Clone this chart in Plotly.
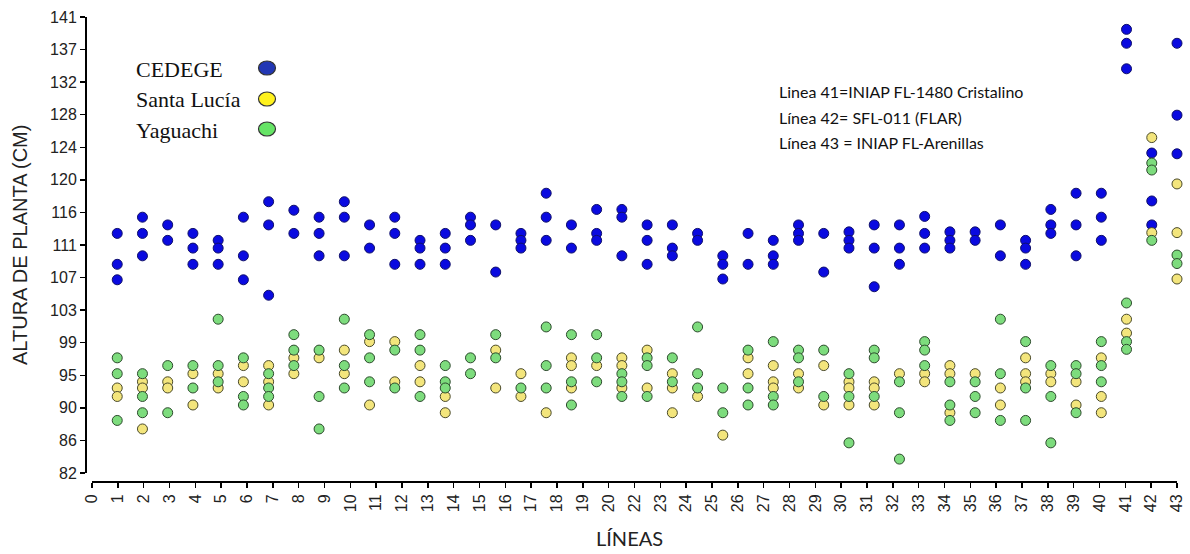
import plotly.graph_objects as go

# ---------------- data ----------------
lines = list(range(1, 44))

cedege = [
    [113.0, 109.0, 107.0], [115.1, 113.0, 110.1], [114.1, 112.1], [113.0, 111.1, 109.0],
    [112.1, 111.1, 109.0], [115.1, 110.1, 107.0], [117.1, 114.1, 105.0], [116.0, 113.0],
    [115.1, 113.0, 110.1], [117.1, 115.1, 110.1], [114.1, 111.1], [115.1, 113.0, 109.0],
    [112.1, 111.1, 109.0], [113.0, 111.1, 109.0], [115.1, 114.1, 112.1], [114.1, 108.0],
    [113.0, 112.1, 111.1], [118.2, 115.1, 112.1], [114.1, 111.1], [116.1, 113.0, 112.1],
    [116.1, 115.1, 110.1], [114.1, 112.1, 109.0], [114.1, 111.1, 110.1], [113.0, 112.1],
    [110.1, 109.0, 107.1], [113.0, 109.0], [112.1, 110.1, 109.0], [114.1, 113.0, 112.1],
    [113.0, 108.0], [113.2, 112.1, 111.1], [114.1, 111.1, 106.1], [114.1, 111.1, 109.0],
    [115.2, 113.0, 111.1], [113.2, 112.1, 111.1], [113.2, 112.1], [114.1, 110.1],
    [112.1, 111.1, 109.0], [116.1, 114.1, 113.0], [118.2, 114.1, 110.1], [118.2, 115.1, 112.1],
    [139.4, 137.6, 134.3], [123.4, 117.2, 114.1], [137.6, 128.3, 123.3],
]

santa_lucia = [
    [93.0, 91.9], [93.8, 93.0, 87.7], [93.8, 93.0], [94.85, 90.8],
    [94.85, 93.0], [95.9, 93.8], [95.9, 93.8, 90.8], [96.9, 94.85],
    [96.9], [97.9, 94.85], [99.0, 90.8], [99.0, 93.8],
    [95.9, 93.8], [91.9, 89.8], [], [97.9, 93.0],
    [94.85, 91.9], [89.8], [96.9, 95.9, 93.0], [95.9],
    [96.9, 95.9, 93.0], [97.9, 93.0], [94.85, 93.0, 89.8], [91.9],
    [86.9], [96.9, 94.85], [95.9, 93.8, 93.0], [94.85, 93.0],
    [95.9, 90.8], [93.8, 93.0, 90.8], [93.8, 93.0, 90.8], [94.85],
    [94.85, 93.8], [95.9, 94.85, 89.8], [94.85], [93.0, 90.8],
    [96.9, 94.85, 93.8], [94.85, 93.8], [93.8, 90.8], [96.9, 91.9, 89.8],
    [101.9, 100.1], [125.4, 113.1], [119.4, 113.1, 107.1],
]

yaguachi = [
    [96.9, 94.85, 88.8], [94.85, 91.9, 89.8], [95.9, 89.8], [95.9, 93.0],
    [101.9, 95.9, 93.8], [96.9, 91.9, 90.8], [94.85, 93.0, 91.9], [99.9, 97.9, 95.9],
    [97.9, 91.9, 87.7], [101.9, 95.9, 93.0], [99.9, 96.9, 93.8], [97.9, 93.0],
    [99.9, 97.9, 91.9], [95.9, 93.8, 93.0], [96.9, 94.85], [99.9, 96.9],
    [93.0], [100.9, 95.9, 93.0], [99.9, 93.8, 90.8], [99.9, 96.9, 93.8],
    [94.85, 93.8, 91.9], [96.9, 95.9, 91.9], [96.9, 93.8], [100.9, 94.85, 93.0],
    [93.0, 89.8], [97.9, 93.0, 90.8], [99.0, 91.9, 90.8], [97.9, 96.9, 93.8],
    [97.9, 91.9], [94.85, 91.9, 85.9], [97.9, 96.9, 91.9], [93.8, 89.8, 83.8],
    [99.0, 97.9, 95.9], [93.8, 90.8, 88.8], [93.8, 91.9, 89.8], [101.9, 94.85, 88.8],
    [99.0, 93.0, 88.8], [95.9, 91.9, 85.9], [95.9, 94.85, 89.8], [99.0, 95.9, 93.8],
    [104.0, 99.0, 98.0], [122.1, 121.2, 112.1], [110.2, 109.1],
]

series_names = ["CEDEGE", "Santa Lucía", "Yaguachi"]
y_tick_labels = ["82", "86", "90", "95", "99", "103", "107", "111",
                 "116", "120", "124", "128", "132", "137", "141"]
x_tick_labels = [str(i) for i in range(0, 21)] + [str(i) for i in range(22, 44)]
notes = ["Linea 41=INIAP FL-1480 Cristalino",
         "Línea 42= SFL-011 (FLAR)",
         "Línea 43 = INIAP FL-Arenillas"]

# ---------------- layout constants ----------------
W, H = 1190, 554
ML, MR, MT, MB = 86, 13, 17, 72
PW, PH = W - ML - MR, H - MT - MB
Y_MIN, Y_MAX = 82, 141
X_MAX = 43
y_lo = Y_MIN - 9 / 456 * (Y_MAX - Y_MIN)
x_lo = -6 / 25.24


def px(x):
    return (x - ML) / PW


def py(y):
    return (H - MB - y) / PH


def flatten(groups):
    xs, ys = [], []
    for ln, vals in zip(lines, groups):
        for v in vals:
            xs.append(ln)
            ys.append(v)
    return xs, ys


fills = ["#0a0ae0", "#f3e57c", "#7ddc7d"]
edges = ["#10106a", "#4a4a2a", "#2d4a2d"]

fig = go.Figure()
for name, grp, fc, ec in zip(series_names, [cedege, santa_lucia, yaguachi], fills, edges):
    xs, ys = flatten(grp)
    fig.add_trace(go.Scatter(
        x=xs, y=ys, mode="markers", name=name, cliponaxis=False,
        marker=dict(size=10, color=fc, line=dict(color=ec, width=1)),
        showlegend=False,
    ))

tick_font = dict(family="Liberation Sans, Arial", size=16, color="#222")

fig.update_layout(
    width=W, height=H,
    margin=dict(l=ML, r=MR, t=MT, b=MB, autoexpand=False),
    paper_bgcolor="white", plot_bgcolor="white",
    hovermode=False,
    xaxis=dict(
        range=[x_lo, X_MAX], showgrid=False, zeroline=False, showline=False,
        automargin=False,
        tickmode="array",
        tickvals=[i * X_MAX / (len(x_tick_labels) - 1) for i in range(len(x_tick_labels))],
        ticktext=x_tick_labels, tickangle=-90,
        ticks="outside", ticklen=5, tickwidth=1.5, tickcolor="black",
        tickfont=tick_font,
    ),
    yaxis=dict(
        range=[y_lo, Y_MAX], showgrid=False, zeroline=False, showline=False,
        automargin=False,
        tickmode="array",
        tickvals=[Y_MIN + i * (Y_MAX - Y_MIN) / (len(y_tick_labels) - 1) for i in range(len(y_tick_labels))],
        ticktext=y_tick_labels,
        ticks="outside", ticklen=5, tickwidth=1.5, tickcolor="black",
        tickfont=tick_font,
    ),
)

# detached axis lines
fig.add_shape(type="line", xref="x", yref="paper", x0=0, x1=X_MAX, y0=0, y1=0,
              line=dict(color="black", width=2))
fig.add_shape(type="line", xref="paper", yref="y", x0=0, x1=0, y0=Y_MIN, y1=Y_MAX,
              line=dict(color="black", width=2))

# axis titles
fig.add_annotation(text="ALTURA DE PLANTA (CM)", xref="paper", yref="paper",
                   x=px(20), y=py(245), xanchor="center", yanchor="middle",
                   textangle=-90, showarrow=False,
                   font=dict(family="Liberation Sans, Arial", size=20, color="#222"))
fig.add_annotation(text="LÍNEAS", xref="paper", yref="paper",
                   x=px(629), y=py(538), xanchor="center", yanchor="middle",
                   showarrow=False,
                   font=dict(family="Lato, Carlito", size=20, color="#222"))

# legend (text then marker)
leg_y = [69, 100, 130]
for name, ly, fc in zip(series_names, leg_y, ["#2237b4", "#fff21e", "#66e466"]):
    fig.add_annotation(text=name, xref="paper", yref="paper", x=px(134), y=py(ly),
                       xanchor="left", yanchor="middle", showarrow=False,
                       font=dict(family="Liberation Serif, Times New Roman", size=22, color="#111"))
    fig.add_shape(type="circle", xref="paper", yref="paper",
                  xsizemode="pixel", ysizemode="pixel",
                  xanchor=px(267), yanchor=py(ly - 1),
                  x0=-8.5, x1=8.5, y0=-7, y1=7,
                  fillcolor=fc, line=dict(color="#333", width=1.2))

# notes
for i, t in enumerate(notes):
    fig.add_annotation(text=t, xref="paper", yref="paper", x=px(777), y=py(92 + 25 * i),
                       xanchor="left", yanchor="middle", showarrow=False,
                       font=dict(family="Lato, Carlito", size=16, color="#111"))

fig.write_html("out.html", config={"displayModeBar": False, "staticPlot": True},
               post_script="document.body.style.margin='0px';document.body.style.overflow='hidden';")
